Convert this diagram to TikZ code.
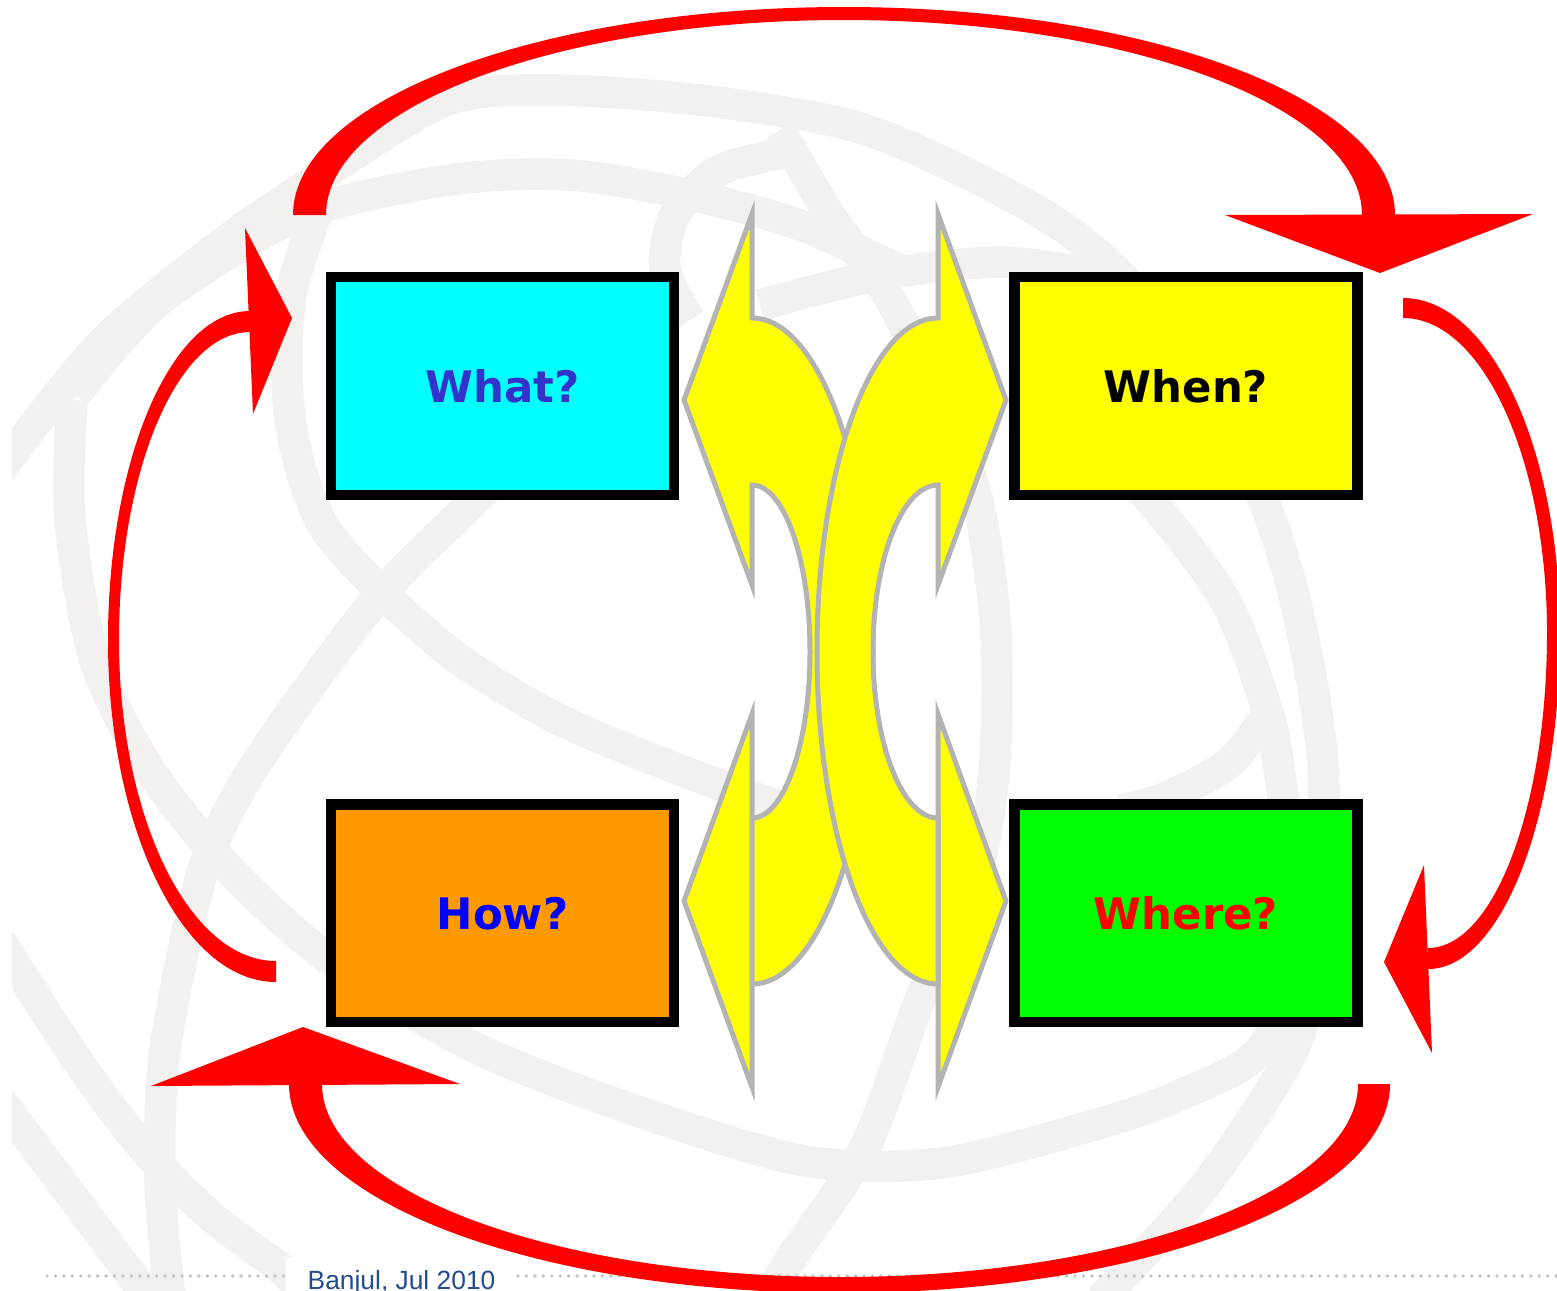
\documentclass[tikz,border=0pt]{standalone}
\usepackage{fontspec}
\setmainfont{DejaVu Sans}
\newfontfamily\footfont{Liberation Sans}
\usetikzlibrary{positioning}

\definecolor{swirlgray}{RGB}{242,241,239}
\definecolor{edgegray}{RGB}{179,179,179}
\definecolor{dotgray}{RGB}{196,196,196}
\definecolor{bandred}{RGB}{255,0,0}
\definecolor{whatblue}{RGB}{51,51,204}
\definecolor{whatcyan}{RGB}{0,255,255}
\definecolor{whenyellow}{RGB}{255,255,0}
\definecolor{howorange}{RGB}{255,153,0}
\definecolor{howblue}{RGB}{0,0,255}
\definecolor{wheregreen}{RGB}{0,255,0}
\definecolor{footblue}{RGB}{35,75,142}

\begin{document}
\begin{tikzpicture}[x=0.01cm, y=-0.01cm,
  swirl/.style={draw=swirlgray, line width=9pt, line join=round},
  qbox/.style={draw=black, line width=3pt, minimum width=3.425cm, minimum height=2.175cm, inner sep=0pt,
    font=\bfseries\fontsize{12.35}{15}\selectfont},
  redband/.style={fill=bandred},
  yellowarc/.style={fill=whenyellow, draw=edgegray, line width=1.42pt, line join=miter},
  dotrule/.style={dotgray, line width=1.1pt, line cap=round, dash pattern=on 0pt off 2.4pt}
]
\useasboundingbox (0,0) rectangle (1557,1290);

\begin{scope}
\clip (12,0) rectangle (1557,1290);
\draw[swirl] plot[smooth] coordinates {(0,470) (100,345) (220,245) (330,170) (448,100) (550,90) (700,100) (850,125) (960,170) (1060,225) (1130,285) (1200,380) (1255,480) (1290,580) (1315,700) (1324,800) (1310,940) (1260,1050) (1180,1095) (1094,1125) (941,1163) (800,1160) (620,1105) (470,1045) (330,960) (230,870) (150,770) (95,660) (70,520) (72,400)};
\draw[swirl] plot[smooth] coordinates {(75,395) (160,300) (300,215) (450,180) (570,175) (690,195) (800,225) (900,270)};
\draw[swirl] plot[smooth] coordinates {(170,1300) (160,1180) (165,1050) (200,880) (240,790) (300,700) (380,595) (470,505) (540,440)};
\draw[swirl] plot[smooth] coordinates {(320,205) (290,300) (290,420) (320,520) (380,590) (460,660) (560,720) (680,770) (790,810)};
\draw[swirl] plot[smooth] coordinates {(780,130) (833,220) (885,290) (930,380) (975,490) (995,620) (995,760) (975,880) (920,1000) (865,1147) (788,1263) (770,1300)};
\draw[swirl] plot[smooth] coordinates {(1100,1300) (1209,1180) (1301,1030) (1295,900) (1282,790) (1268,713) (1225,600) (1150,500) (1080,430)};
\draw[swirl] plot[smooth] coordinates {(1268,713) (1229,763) (1167,797) (1120,810)};
\draw[swirl] plot[smooth] coordinates {(0,940) (79,1063) (145,1150) (212,1217) (279,1267) (300,1290)};
\draw[swirl] plot[smooth] coordinates {(0,1100) (60,1180) (120,1260) (150,1300)};
\draw[swirl] plot[smooth] coordinates {(800,150) (720,170) (675,215) (665,270) (690,320)};
\draw[swirl] plot[smooth] coordinates {(760,305) (880,275) (1000,262) (1100,275)};
\end{scope}

\fill[white] (286,1258) rectangle (515,1292);
\draw[dotrule] (47,1276) -- (285,1276);
\draw[dotrule] (518,1276) -- (1557,1276);
\node[anchor=base west, inner sep=0pt, text=footblue, font=\footfont\fontsize{7.5}{9}\selectfont] (venue) at (307,1289) {Banjul, Jul 2010};

\node[qbox, fill=whatcyan, text=whatblue] (what) at (502.5,386) {What?};
\node[qbox, fill=whenyellow, text=black, right=3.3cm of what] (when) {When?};
\node[qbox, fill=howorange, text=howblue, below=2.99cm of what] (how) {How?};
\node[qbox, fill=wheregreen, text=bandred, below=2.99cm of when] (where) {Where?};

\fill[redband] (293,215) arc[start angle=180, end angle=360, x radius=551, y radius=208]
  -- (1362,215) arc[start angle=0, end angle=-180, x radius=518, y radius=195] -- cycle;
\fill[redband] (1225,215) -- (1533,214) -- (1380,273) -- cycle;

\fill[redband] (289,1084) arc[start angle=180, end angle=0, x radius=550.5, y radius=209]
  -- (1358,1084) arc[start angle=0, end angle=180, x radius=518, y radius=193] -- cycle;
\fill[redband] (151,1086) -- (460,1084) -- (303,1027) -- cycle;

\fill[redband] (250,311) arc[start angle=270, end angle=180, x radius=142, y radius=329]
  arc[start angle=180, end angle=90, x radius=168, y radius=342]
  -- (276,961) arc[start angle=90, end angle=180, x radius=157, y radius=321]
  arc[start angle=180, end angle=270, x radius=131, y radius=308] -- cycle;
\fill[redband] (245,228) -- (292,318) -- (253,414) -- cycle;

\fill[redband] (1403,298) arc[start angle=270, end angle=360, x radius=157, y radius=335]
  arc[start angle=0, end angle=90, x radius=132, y radius=336]
  -- (1428,948) arc[start angle=90, end angle=0, x radius=119, y radius=315]
  arc[start angle=0, end angle=-90, x radius=144, y radius=315] -- cycle;
\fill[redband] (1424,865) -- (1384,962) -- (1432,1053) -- cycle;

\draw[yellowarc] (752,714) -- (684,901) -- (752,1087) -- cycle;
\draw[yellowarc] (752,214) -- (684,400) -- (752,585) -- (752,485)
  arc[start angle=-90, end angle=90, x radius=58, y radius=166.5]
  -- (752,984) arc[start angle=90, end angle=-90, x radius=121, y radius=333] -- cycle;

\draw[yellowarc] (938,714) -- (1006,901) -- (938,1087) -- cycle;
\draw[yellowarc] (938,214) -- (1006,400) -- (938,585) -- (938,485)
  arc[start angle=-90, end angle=-270, x radius=65, y radius=166.5]
  -- (938,984) arc[start angle=90, end angle=270, x radius=121, y radius=333] -- cycle;

\end{tikzpicture}
\end{document}
